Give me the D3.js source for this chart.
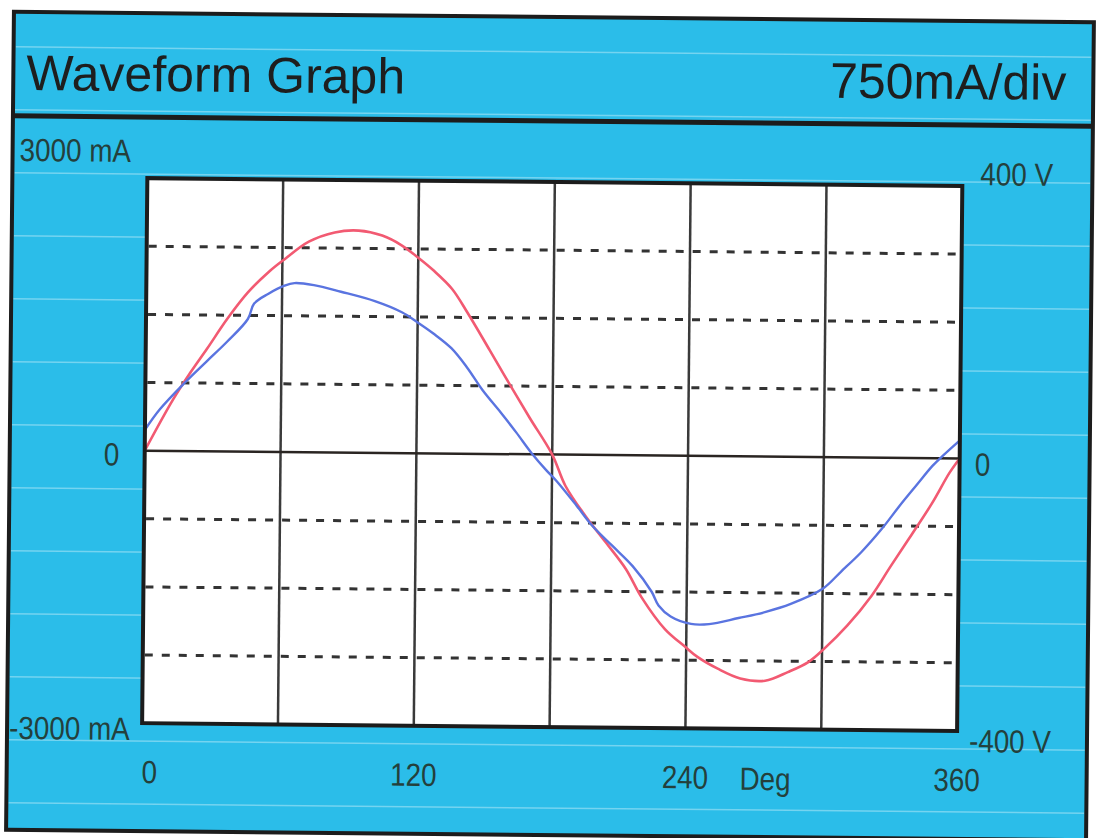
<!DOCTYPE html>
<html>
<head>
<meta charset="utf-8">
<script src="https://cdn.jsdelivr.net/npm/d3@7"></script>
<style>
  html, body { margin: 0; padding: 0; background: #ffffff; }
  svg { display: block; }
</style>
</head>
<body>
<div id="chart"></div>
<script>
// ---- data ----
const titleText = "Waveform Graph";
const scaleText = "750mA/div";

// current trace (blue), degrees and mA
const currentDeg = [0, 6.6, 17.7, 27, 36, 45, 47.7, 54, 61, 65.4, 74, 86, 101, 113, 120, 127, 135, 142, 149, 157, 164, 171, 177.5, 182, 191, 198, 207, 216, 224.5, 227.6, 233, 242, 250, 263, 275, 286, 300, 308, 317, 326, 333.6, 341, 348, 352.6, 360];
const currentMa  = [230, 460, 760, 990, 1210, 1460, 1630, 1740, 1830, 1860, 1840, 1770, 1670, 1550, 1440, 1320, 1160, 950, 700, 460, 240, 10, -175, -290, -560, -780, -1000, -1220, -1500, -1650, -1770, -1850, -1850, -1780, -1710, -1620, -1450, -1260, -1040, -780, -530, -300, -85, 30, 200];

// voltage trace (red), degrees and volts
const voltageDeg = [0, 12.4, 20, 27, 36, 45, 54, 61, 71.6, 83, 93.6, 104, 112.6, 120, 127, 135, 142, 152, 161, 170, 180, 186, 195, 204, 213, 220, 230.6, 239.4, 245, 254, 264, 275, 285, 294, 301, 311, 321.6, 330, 339, 348, 355.6, 360];
const voltageV   = [0, 76, 116, 150, 195, 234, 264, 283, 309, 323, 326, 319, 305, 287, 268, 242, 207, 152, 102, 53, 0, -46, -90, -128, -167, -208, -255, -280, -295, -312, -326, -329, -316, -301, -281, -247, -203, -159, -113, -66, -21, 0];

// axes / grid
const degDomain = [0, 360];
const currentDomain = [-3000, 3000];
const voltageDomain = [-400, 400];
const verticalGridDeg = [60, 120, 180, 240, 300];
const dashedLevelsMa = [-2250, -1500, -750, 750, 1500, 2250];
const bottomTickDeg = [0, 120, 240, 360];
const bottomTickLabels = ["0", "120", "240", "360"];
const axisUnitLabel = "Deg";
const leftLabels = ["3000 mA", "0", "-3000 mA"];
const rightLabels = ["400 V", "0", "-400 V"];

// ---- drawing ----
const W = 1096, H = 838;
const cyan = "#2bbde9";
const labelColor = "#24403c";

const svg = d3.select("#chart").append("svg")
  .attr("width", W).attr("height", H);

svg.append("rect").attr("width", W).attr("height", H).attr("fill", "#ffffff");

// whole panel is slightly tilted in the photo
const root = svg.append("g").attr("transform", "rotate(0.55,548,425)");

const frame = {x0: 10, x1: 1090, y0: 17, y1: 835, sep: 121};
const plot = {x0: 145, x1: 960, y0: 182, y1: 727};

const x = d3.scaleLinear().domain(degDomain).range([plot.x0, plot.x1]);
const yI = d3.scaleLinear().domain(currentDomain).range([plot.y1, plot.y0]);
const yV = d3.scaleLinear().domain(voltageDomain).range([plot.y1, plot.y0]);

// panel background
root.append("rect")
  .attr("x", frame.x0).attr("y", frame.y0)
  .attr("width", frame.x1 - frame.x0).attr("height", frame.y1 - frame.y0)
  .attr("fill", cyan);

// faint scan stripes
root.append("g").selectAll("line")
  .data(d3.range(52, frame.y1, 63))
  .join("line")
  .attr("x1", frame.x0 + 2).attr("x2", frame.x1 - 2)
  .attr("y1", d => d).attr("y2", d => d)
  .attr("stroke", "#ffffff").attr("stroke-opacity", 0.35).attr("stroke-width", 1.5);

// title separator and outer frame
root.append("line")
  .attr("x1", frame.x0).attr("x2", frame.x1)
  .attr("y1", frame.sep).attr("y2", frame.sep)
  .attr("stroke", "#1c1c1c").attr("stroke-width", 5);

root.append("rect")
  .attr("x", frame.x0).attr("y", frame.y0)
  .attr("width", frame.x1 - frame.x0).attr("height", frame.y1 - frame.y0)
  .attr("fill", "none").attr("stroke", "#1c1c1c").attr("stroke-width", 4);

// title texts
root.append("text")
  .attr("x", 23).attr("y", 95)
  .attr("font-family", "'Liberation Sans', Arial, sans-serif")
  .attr("font-size", 50).attr("fill", "#1e1e1e")
  .text(titleText);
root.append("text")
  .attr("x", 1063).attr("y", 95)
  .attr("text-anchor", "end")
  .attr("font-family", "'Liberation Sans', Arial, sans-serif")
  .attr("font-size", 50).attr("fill", "#1e1e1e")
  .text(scaleText);

// plot background
root.append("rect")
  .attr("x", plot.x0).attr("y", plot.y0)
  .attr("width", plot.x1 - plot.x0).attr("height", plot.y1 - plot.y0)
  .attr("fill", "#ffffff");

// vertical grid
root.append("g").selectAll("line")
  .data(verticalGridDeg)
  .join("line")
  .attr("x1", d => x(d)).attr("x2", d => x(d))
  .attr("y1", plot.y0).attr("y2", plot.y1)
  .attr("stroke", "#3a3a3a").attr("stroke-width", 2.5);

// dashed horizontal grid
root.append("g").selectAll("line")
  .data(dashedLevelsMa)
  .join("line")
  .attr("x1", plot.x0 + 2).attr("x2", plot.x1 - 2)
  .attr("y1", d => yI(d)).attr("y2", d => yI(d))
  .attr("stroke", "#333333").attr("stroke-width", 3)
  .attr("stroke-dasharray", "8,9");

// zero line
root.append("line")
  .attr("x1", plot.x0).attr("x2", plot.x1)
  .attr("y1", yI(0)).attr("y2", yI(0))
  .attr("stroke", "#2a2522").attr("stroke-width", 2.5);

// traces
const voltageLine = d3.line()
  .x((d, i) => x(voltageDeg[i]))
  .y(d => yV(d))
  .curve(d3.curveCatmullRom.alpha(0.5));
const currentLine = d3.line()
  .x((d, i) => x(currentDeg[i]))
  .y(d => yI(d))
  .curve(d3.curveCatmullRom.alpha(0.5));

root.append("path")
  .attr("d", voltageLine(voltageV))
  .attr("fill", "none").attr("stroke", "#f25a72").attr("stroke-width", 2.6);
root.append("path")
  .attr("d", currentLine(currentMa))
  .attr("fill", "none").attr("stroke", "#5a74e0").attr("stroke-width", 2.4);

// plot border
root.append("rect")
  .attr("x", plot.x0).attr("y", plot.y0)
  .attr("width", plot.x1 - plot.x0).attr("height", plot.y1 - plot.y0)
  .attr("fill", "none").attr("stroke", "#1c1c1c").attr("stroke-width", 4);

// condensed label helper
function label(txt, px, py, anchor) {
  root.append("g")
    .attr("transform", `translate(${px},${py}) scale(0.87,1)`)
    .append("text")
    .attr("text-anchor", anchor || "start")
    .attr("font-family", "'Liberation Sans', Arial, sans-serif")
    .attr("font-size", 32).attr("fill", labelColor)
    .text(txt);
}

// left (current) axis labels
label(leftLabels[0], 17, yI(currentDomain[1]) - 16);
label(leftLabels[1], 112, yI(0) + 15, "middle");
label(leftLabels[2], 12, yI(currentDomain[0]) + 17);

// right (voltage) axis labels
label(rightLabels[0], 978, yV(voltageDomain[1]) - 1);
label(rightLabels[1], 983, yV(0) + 17, "middle");
label(rightLabels[2], 972, yV(voltageDomain[0]) + 21);

// bottom labels (first one starts at the left edge)
bottomTickDeg.forEach((d, i) =>
  label(bottomTickLabels[i], x(d), plot.y1 + 60, i === 0 ? "start" : "middle"));
label(axisUnitLabel, 743, plot.y1 + 61);
</script>
</body>
</html>
